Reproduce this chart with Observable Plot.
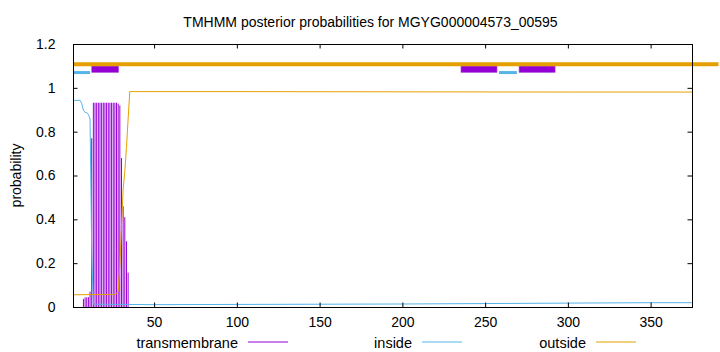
<!DOCTYPE html>
<html><head><meta charset="utf-8">
<script src="https://cdn.jsdelivr.net/npm/d3@7"></script>
<script src="https://cdn.jsdelivr.net/npm/@observablehq/plot@0.6"></script>
<style>body{margin:0;background:#fff} svg{display:block}</style>
</head><body><div id="chart"></div>
<script>
const title = "TMHMM posterior probabilities for MGYG000004573_00595";
const yLabel = "probability";
const seriesNames = ["transmembrane", "inside", "outside"];
const seriesColors = ["#9400d3", "#56b4e9", "#e69f00"];

// transmembrane posterior (impulses), per residue
const tmResidues = [7, 8, 9, 10, 11, 12, 13, 14, 15, 16, 17, 18, 19, 20, 21, 22, 23, 24, 25, 26, 27, 28, 29, 30, 31, 32, 33, 34];
const tmProb =     [0.037, 0.044, 0.044, 0.045, 0.07, 0.77, 0.932, 0.932, 0.932, 0.932, 0.932, 0.932, 0.932, 0.932, 0.932, 0.932, 0.932, 0.932, 0.932, 0.932, 0.932, 0.928, 0.92, 0.68, 0.46, 0.41, 0.3, 0.157];

// inside posterior
const inResidues = [1, 5, 6, 7, 8, 9, 10, 11, 12, 13, 50, 100, 150, 200, 250, 300, 350, 375];
const inProb =     [0.945, 0.945, 0.93, 0.90, 0.89, 0.89, 0.88, 0.86, 0.25, 0.015, 0.013, 0.014, 0.015, 0.016, 0.018, 0.02, 0.022, 0.022];

// outside posterior
const outResidues = [1, 26, 27, 28, 29, 30, 31, 32, 33, 34, 35, 100, 200, 300, 375];
const outProb =     [0.058, 0.06, 0.063, 0.075, 0.19, 0.37, 0.54, 0.62, 0.73, 0.86, 0.985, 0.985, 0.984, 0.983, 0.983];

// predicted topology segments drawn above the curves
const tmSegStart = [12.3, 235.4, 270.5];
const tmSegEnd   = [28.6, 257.2, 292.3];
const inSegStart = [1, 258.4];
const inSegEnd   = [11.3, 269.2];
const outSegStart = [1];
const outSegEnd   = [391];

const xTicks = [50, 100, 150, 200, 250, 300, 350];
const yTicks = [0, 0.2, 0.4, 0.6, 0.8, 1, 1.2];

const tm = tmResidues.map((r, i) => ({r, p: tmProb[i]}));
const inside = inResidues.map((r, i) => ({r, p: inProb[i]}));
const outside = outResidues.map((r, i) => ({r, p: outProb[i]}));
const tmSegs = tmSegStart.map((s, i) => ({s, e: tmSegEnd[i]}));
const inSegs = inSegStart.map((s, i) => ({s, e: inSegEnd[i]}));
const outSegs = outSegStart.map((s, i) => ({s, e: outSegEnd[i]}));

const W = 720, H = 352, mL = 73, mR = 28, mT = 44, mB = 45;
const pw = W - mL - mR, ph = H - mT - mB, tk = 4.5;
const font = "'Liberation Sans', Arial, Helvetica, sans-serif";

const svg = Plot.plot({
  width: W, height: H,
  marginLeft: mL, marginRight: mR, marginTop: mT, marginBottom: mB,
  style: {fontFamily: font, fontSize: "14px", color: "#000", background: "#fff", overflow: "visible"},
  x: {domain: [1, 375]},
  y: {domain: [0, 1.2]},
  marks: [
    Plot.ruleX(tm, {x: "r", y1: 0, y2: "p", stroke: seriesColors[0], strokeWidth: 1}),
    Plot.line(inside, {x: "r", y: "p", stroke: seriesColors[1], strokeWidth: 1}),
    Plot.line(outside, {x: "r", y: "p", stroke: seriesColors[2], strokeWidth: 1}),
    Plot.rect(tmSegs, {x1: "s", x2: "e", y1: () => 1.07, y2: () => 1.1, fill: seriesColors[0], stroke: "#b060e0", strokeWidth: 0.6}),
    Plot.ruleY(inSegs, {x1: "s", x2: "e", y: () => 1.072, stroke: seriesColors[1], strokeWidth: 3}),
    Plot.ruleY(outSegs, {x1: "s", x2: "e", y: () => 1.11, stroke: seriesColors[2], strokeWidth: 4}),
    Plot.ruleX(xTicks, {x: d => d, insetTop: ph - tk, stroke: "#000"}),
    Plot.ruleX(xTicks, {x: d => d, insetBottom: ph - tk, stroke: "#000"}),
    Plot.ruleY(yTicks, {y: d => d, insetRight: pw - tk, stroke: "#000"}),
    Plot.ruleY(yTicks, {y: d => d, insetLeft: pw - tk, stroke: "#000"}),
    Plot.frame({stroke: "#000", strokeWidth: 1}),
    Plot.axisX(xTicks, {tickSize: 0, tickPadding: 10, label: null, fontSize: 14}),
    Plot.axisY(yTicks, {tickSize: 0, tickPadding: 18, label: null, fontSize: 14, tickFormat: d => String(+d.toFixed(1))})
  ]
});

const sel = d3.select(svg);
sel.append("text").attr("x", 370.5).attr("y", 26.5).attr("text-anchor", "middle")
  .attr("font-family", font).attr("font-size", 14).attr("fill", "#000").text(title);
sel.append("text").attr("transform", "translate(21,175.5) rotate(-90)").attr("text-anchor", "middle")
  .attr("font-family", font).attr("font-size", 14).attr("fill", "#000").text(yLabel);

const legendLineStart = [248, 422, 596];
seriesNames.forEach((name, i) => {
  const x0 = legendLineStart[i];
  sel.append("text").attr("x", x0 - 10).attr("y", 347.5).attr("text-anchor", "end")
    .attr("font-family", font).attr("font-size", 14.5).attr("fill", "#000").text(name);
  sel.append("line").attr("x1", x0).attr("x2", x0 + 40).attr("y1", 342).attr("y2", 342)
    .attr("stroke", seriesColors[i]).attr("stroke-width", 1);
});

document.getElementById("chart").appendChild(svg);
</script>
</body></html>
